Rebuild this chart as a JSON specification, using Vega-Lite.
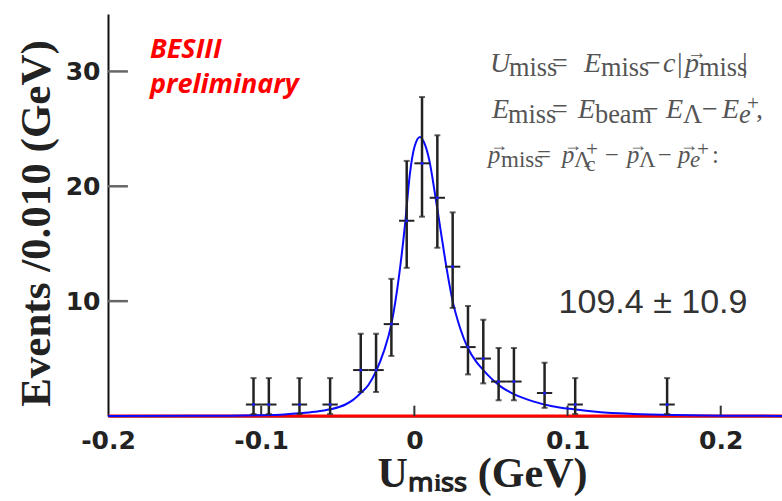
{
  "$schema": "https://vega.github.io/schema/vega-lite/v6.json",
  "width": 674,
  "height": 402,
  "autosize": {"type": "none"},
  "padding": {"left": 108, "top": 14, "right": 0, "bottom": 85},
  "background": "white",
  "config": {"view": {"stroke": null}, "axis": {"grid": false}},
  "datasets": {
    "bins": [
      {"x": -0.105, "xl": -0.11, "xh": -0.1, "n": 1, "lo": 0.17, "hi": 3.3},
      {"x": -0.095, "xl": -0.1, "xh": -0.09, "n": 1, "lo": 0.17, "hi": 3.3},
      {"x": -0.075, "xl": -0.08, "xh": -0.07, "n": 1, "lo": 0.17, "hi": 3.3},
      {"x": -0.055, "xl": -0.06, "xh": -0.05, "n": 1, "lo": 0.17, "hi": 3.3},
      {"x": -0.035, "xl": -0.04, "xh": -0.03, "n": 4, "lo": 2.09, "hi": 7.16},
      {"x": -0.025, "xl": -0.03, "xh": -0.02, "n": 4, "lo": 2.09, "hi": 7.16},
      {"x": -0.015, "xl": -0.02, "xh": -0.01, "n": 8, "lo": 5.23, "hi": 11.94},
      {"x": -0.005, "xl": -0.01, "xh": 0.0, "n": 17, "lo": 12.9, "hi": 22.21},
      {"x": 0.005, "xl": 0.0, "xh": 0.01, "n": 22, "lo": 17.35, "hi": 27.77},
      {"x": 0.015, "xl": 0.01, "xh": 0.02, "n": 19, "lo": 14.65, "hi": 24.44},
      {"x": 0.025, "xl": 0.02, "xh": 0.03, "n": 13, "lo": 9.41, "hi": 17.73},
      {"x": 0.035, "xl": 0.03, "xh": 0.04, "n": 6, "lo": 3.62, "hi": 9.58},
      {"x": 0.045, "xl": 0.04, "xh": 0.05, "n": 5, "lo": 2.84, "hi": 8.38},
      {"x": 0.055, "xl": 0.05, "xh": 0.06, "n": 3, "lo": 1.37, "hi": 5.92},
      {"x": 0.065, "xl": 0.06, "xh": 0.07, "n": 3, "lo": 1.37, "hi": 5.92},
      {"x": 0.085, "xl": 0.08, "xh": 0.09, "n": 2, "lo": 0.71, "hi": 4.64},
      {"x": 0.105, "xl": 0.1, "xh": 0.11, "n": 1, "lo": 0.17, "hi": 3.3},
      {"x": 0.165, "xl": 0.16, "xh": 0.17, "n": 1, "lo": 0.17, "hi": 3.3}
    ],
    "fit": [
      {"x": -0.2, "y": 0.0},
      {"x": -0.12, "y": 0.03},
      {"x": -0.1, "y": 0.07},
      {"x": -0.085, "y": 0.14},
      {"x": -0.075, "y": 0.23},
      {"x": -0.065, "y": 0.36},
      {"x": -0.055, "y": 0.58},
      {"x": -0.045, "y": 1.0},
      {"x": -0.04, "y": 1.4},
      {"x": -0.035, "y": 2.0},
      {"x": -0.03, "y": 2.7},
      {"x": -0.025, "y": 3.9},
      {"x": -0.02, "y": 5.6},
      {"x": -0.015, "y": 8.0},
      {"x": -0.01, "y": 12.2},
      {"x": -0.006, "y": 16.8},
      {"x": -0.003, "y": 21.0},
      {"x": 0.0, "y": 23.4},
      {"x": 0.0037, "y": 24.3},
      {"x": 0.007, "y": 23.6},
      {"x": 0.01, "y": 22.1},
      {"x": 0.0135, "y": 19.3},
      {"x": 0.017, "y": 16.3},
      {"x": 0.021, "y": 12.9},
      {"x": 0.025, "y": 10.0},
      {"x": 0.03, "y": 7.6},
      {"x": 0.035, "y": 5.9},
      {"x": 0.04, "y": 4.8},
      {"x": 0.045, "y": 4.0},
      {"x": 0.05, "y": 3.3},
      {"x": 0.056, "y": 2.6},
      {"x": 0.065, "y": 1.9},
      {"x": 0.078, "y": 1.25},
      {"x": 0.09, "y": 0.85},
      {"x": 0.104, "y": 0.58},
      {"x": 0.12, "y": 0.35},
      {"x": 0.143, "y": 0.18},
      {"x": 0.17, "y": 0.08},
      {"x": 0.2, "y": 0.03},
      {"x": 0.24, "y": 0.01}
    ],
    "bkg": [{"x": -0.2, "y": 0}, {"x": 0.24, "y": 0}],
    "ytk": [
      {"y": 10, "x": -0.2, "xe": -0.187},
      {"y": 20, "x": -0.2, "xe": -0.187},
      {"y": 30, "x": -0.2, "xe": -0.187}
    ],
    "xtk": [
      {"x": -0.1, "y": 0, "ye": 0.9},
      {"x": 0, "y": 0, "ye": 0.9},
      {"x": 0.1, "y": 0, "ye": 0.9},
      {"x": 0.2, "y": 0, "ye": 0.9}
    ],
    "ital": [
      {"t": "U", "x": 0.04938, "y": 29.99, "r": "m"},
      {"t": "E", "x": 0.11075, "y": 29.99, "r": "m"},
      {"t": "c", "x": 0.16232, "y": 29.99, "r": "m"},
      {"t": "p", "x": 0.17668, "y": 29.99, "r": "m"},
      {"t": "E", "x": 0.05069, "y": 25.98, "r": "m"},
      {"t": "E", "x": 0.10683, "y": 25.98, "r": "m"},
      {"t": "E", "x": 0.16428, "y": 25.98, "r": "m"},
      {"t": "E", "x": 0.20084, "y": 25.98, "r": "m"},
      {"t": "e", "x": 0.21194, "y": 25.54, "r": "s"},
      {"t": "p", "x": 0.04807, "y": 22.06, "r": "m3"},
      {"t": "p", "x": 0.09639, "y": 22.06, "r": "m3"},
      {"t": "p", "x": 0.13883, "y": 22.06, "r": "m3"},
      {"t": "p", "x": 0.17211, "y": 22.06, "r": "m3"},
      {"t": "e", "x": 0.17995, "y": 21.71, "r": "s3"}
    ],
    "upr": [
      {"t": "miss", "x": 0.06179, "y": 29.56, "r": "s"},
      {"t": "=", "x": 0.08986, "y": 29.99, "r": "m"},
      {"t": "miss", "x": 0.12185, "y": 29.56, "r": "s"},
      {"t": "−", "x": 0.15057, "y": 29.99, "r": "m"},
      {"t": "|", "x": 0.17146, "y": 29.99, "r": "m"},
      {"t": "→", "x": 0.17799, "y": 31.12, "r": "a"},
      {"t": "miss", "x": 0.18582, "y": 29.56, "r": "s"},
      {"t": "|", "x": 0.2139, "y": 29.99, "r": "m"},
      {"t": "miss", "x": 0.06113, "y": 25.54, "r": "s"},
      {"t": "=", "x": 0.08986, "y": 25.98, "r": "m"},
      {"t": "beam", "x": 0.11793, "y": 25.54, "r": "s"},
      {"t": "−", "x": 0.14927, "y": 25.98, "r": "m"},
      {"t": "Λ", "x": 0.17538, "y": 25.54, "r": "s"},
      {"t": "−", "x": 0.18778, "y": 25.98, "r": "m"},
      {"t": "+", "x": 0.21716, "y": 26.61, "r": "ss"},
      {"t": ",", "x": 0.22304, "y": 25.98, "r": "m"},
      {"t": "→", "x": 0.04938, "y": 23.1, "r": "a3"},
      {"t": "miss", "x": 0.05656, "y": 21.71, "r": "s3"},
      {"t": "=", "x": 0.08006, "y": 22.06, "r": "m3"},
      {"t": "→", "x": 0.09769, "y": 23.1, "r": "a3"},
      {"t": "Λ", "x": 0.10422, "y": 21.71, "r": "s3"},
      {"t": "c", "x": 0.11206, "y": 21.36, "r": "ss"},
      {"t": "+", "x": 0.11206, "y": 22.67, "r": "ss"},
      {"t": "−", "x": 0.12447, "y": 22.06, "r": "m3"},
      {"t": "→", "x": 0.14013, "y": 23.1, "r": "a3"},
      {"t": "Λ", "x": 0.14666, "y": 21.71, "r": "s3"},
      {"t": "−", "x": 0.15906, "y": 22.06, "r": "m3"},
      {"t": "→", "x": 0.17342, "y": 23.1, "r": "a3"},
      {"t": "+", "x": 0.18452, "y": 22.67, "r": "ss"},
      {"t": ":", "x": 0.19431, "y": 22.06, "r": "m3"}
    ],
    "stamp": [
      {"t": "BESIII", "x": -0.1726, "y": 31.2},
      {"t": "preliminary", "x": -0.1726, "y": 28.16}
    ],
    "yield": [{"t": "109.4 ± 10.9", "x": 0.1558, "y": 8.98}]
  },
  "layer": [
    {
      "data": {"name": "bkg"},
      "mark": {"type": "line", "color": "#ff0000", "strokeWidth": 3},
      "encoding": {
        "x": {
          "field": "x", "type": "quantitative",
          "scale": {"domain": [-0.2, 0.24], "nice": false, "zero": false},
          "axis": {
            "values": [-0.2, -0.1, 0, 0.1, 0.2],
            "labelExpr": "toString(datum.value)",
            "labelFont": "DejaVu Sans", "labelFontWeight": "bold", "labelFontSize": 25, "labelColor": "#222",
            "labelFlush": false, "labelOverlap": false,
            "ticks": false, "labelPadding": 12,
            "domainColor": "#222", "domainWidth": 2,
            "title": "Uₘᵢₛₛ (GeV)",
            "titleFont": "Liberation Serif", "titleFontSize": 42, "titleFontWeight": "bold", "titleColor": "#222",
            "titleX": 374, "titleY": 70, "titleBaseline": "alphabetic", "titleAlign": "center"
          }
        },
        "y": {
          "field": "y", "type": "quantitative",
          "scale": {"domain": [0, 35], "nice": false, "zero": false},
          "axis": {
            "values": [10, 20, 30],
            "labelFont": "DejaVu Sans", "labelFontWeight": "bold", "labelFontSize": 25, "labelColor": "#222",
            "labelFlush": false,
            "ticks": false, "labelPadding": 8,
            "domainColor": "#111", "domainWidth": 2,
            "title": "Events /0.010  (GeV)",
            "titleFont": "Liberation Serif", "titleFontSize": 43, "titleFontWeight": "bold", "titleColor": "#222",
            "titleX": -72, "titleY": 209, "titleAngle": -90, "titleBaseline": "middle", "titleAlign": "center"
          }
        }
      }
    },
    {
      "data": {"name": "ytk"},
      "mark": {"type": "rule", "color": "#666", "strokeWidth": 2.5},
      "encoding": {
        "x": {"field": "x", "type": "quantitative"},
        "x2": {"field": "xe"},
        "y": {"field": "y", "type": "quantitative"}
      }
    },
    {
      "data": {"name": "xtk"},
      "mark": {"type": "rule", "color": "#333", "strokeWidth": 2},
      "encoding": {
        "x": {"field": "x", "type": "quantitative"},
        "y": {"field": "y", "type": "quantitative"},
        "y2": {"field": "ye"}
      }
    },
    {
      "data": {"name": "fit"},
      "mark": {"type": "line", "color": "#0a0aff", "strokeWidth": 2, "interpolate": "monotone"},
      "encoding": {
        "x": {"field": "x", "type": "quantitative"},
        "y": {"field": "y", "type": "quantitative"}
      }
    },
    {
      "data": {"name": "bins"},
      "mark": {"type": "rule", "color": "#222", "strokeWidth": 2.5},
      "encoding": {
        "x": {"field": "x", "type": "quantitative"},
        "y": {"field": "lo", "type": "quantitative"},
        "y2": {"field": "hi"}
      }
    },
    {
      "data": {"name": "bins"},
      "mark": {"type": "rule", "color": "#222", "strokeWidth": 2},
      "encoding": {
        "x": {"field": "xl", "type": "quantitative"},
        "x2": {"field": "xh"},
        "y": {"field": "n", "type": "quantitative"}
      }
    },
    {
      "data": {"name": "bins"},
      "mark": {"type": "tick", "orient": "horizontal", "color": "#222", "size": 6, "thickness": 2},
      "encoding": {
        "x": {"field": "x", "type": "quantitative"},
        "y": {"field": "hi", "type": "quantitative"}
      }
    },
    {
      "data": {"name": "bins"},
      "mark": {"type": "tick", "orient": "horizontal", "color": "#222", "size": 6, "thickness": 2},
      "encoding": {
        "x": {"field": "x", "type": "quantitative"},
        "y": {"field": "lo", "type": "quantitative"}
      }
    },
    {
      "data": {"name": "bins"},
      "mark": {"type": "point", "filled": true, "color": "#1a1aff", "size": 10, "opacity": 1},
      "encoding": {
        "x": {"field": "x", "type": "quantitative"},
        "y": {"field": "n", "type": "quantitative"}
      }
    },
    {
      "mark": {"type": "rule", "color": "#555", "strokeWidth": 2.5},
      "encoding": {"y": {"datum": 35, "type": "quantitative"}}
    },
    {
      "data": {"name": "stamp"},
      "mark": {"type": "text", "font": "Open Sans", "fontWeight": "bold", "fontStyle": "italic", "fontSize": 27, "color": "#ff0000", "align": "left", "baseline": "alphabetic"},
      "encoding": {
        "x": {"field": "x", "type": "quantitative"},
        "y": {"field": "y", "type": "quantitative"},
        "text": {"field": "t"}
      }
    },
    {
      "data": {"name": "yield"},
      "mark": {"type": "text", "font": "Liberation Sans", "fontSize": 34, "color": "#333", "align": "center", "baseline": "alphabetic"},
      "encoding": {
        "x": {"field": "x", "type": "quantitative"},
        "y": {"field": "y", "type": "quantitative"},
        "text": {"field": "t"}
      }
    },
    {
      "data": {"name": "ital"},
      "mark": {"type": "text", "font": "Liberation Serif", "fontStyle": "italic", "color": "#555", "align": "left", "baseline": "alphabetic"},
      "encoding": {
        "x": {"field": "x", "type": "quantitative"},
        "y": {"field": "y", "type": "quantitative"},
        "text": {"field": "t"},
        "size": {"field": "r", "type": "ordinal", "scale": {"domain": ["m", "s", "m3", "s3", "ss", "a", "a3"], "range": [28, 18, 24, 16, 11, 14, 12]}, "legend": null}
      }
    },
    {
      "data": {"name": "upr"},
      "mark": {"type": "text", "font": "Liberation Serif", "color": "#555", "align": "left", "baseline": "alphabetic"},
      "encoding": {
        "x": {"field": "x", "type": "quantitative"},
        "y": {"field": "y", "type": "quantitative"},
        "text": {"field": "t"},
        "size": {"field": "r", "type": "ordinal", "scale": {"domain": ["m", "s", "m3", "s3", "ss", "a", "a3"], "range": [28, 18, 24, 16, 11, 14, 12]}, "legend": null}
      }
    }
  ]
}
